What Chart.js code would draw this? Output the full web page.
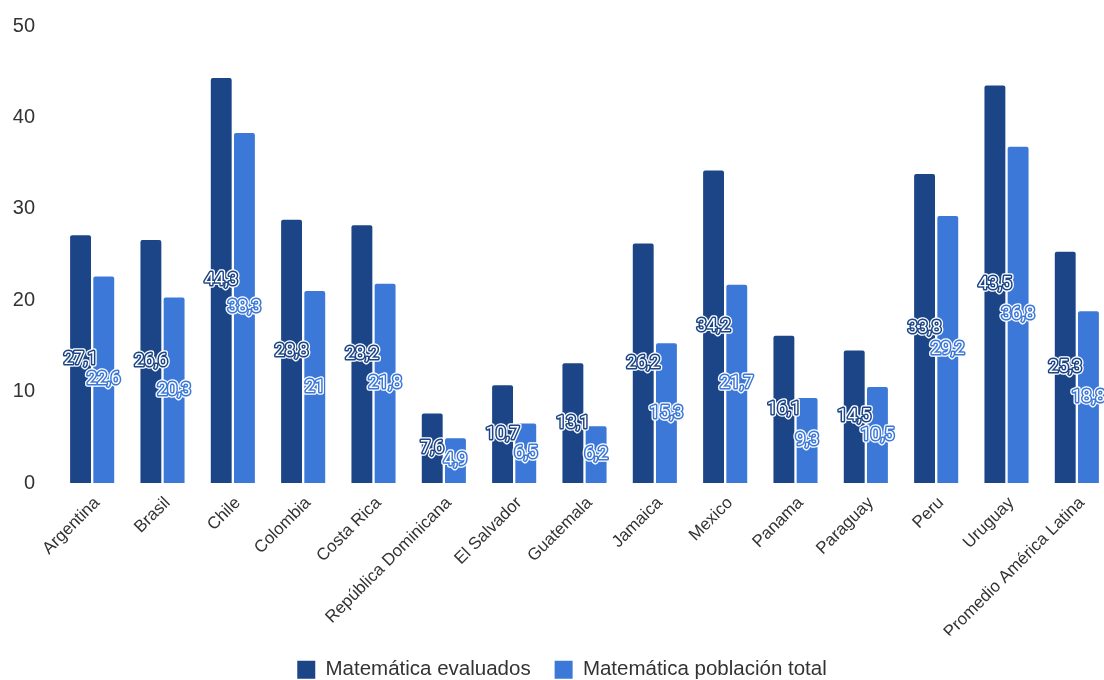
<!DOCTYPE html>
<html>
<head>
<meta charset="utf-8">
<script src="https://cdn.jsdelivr.net/npm/chart.js@4.4.1/dist/chart.umd.min.js"></script>
<style>
  html, body { margin: 0; padding: 0; background: #fff; overflow: hidden; }
  #wrap { position: absolute; left: 0; top: 0; width: 1112px; height: 690px; }
</style>
</head>
<body>
<div id="wrap"><canvas id="graph0"></canvas></div>
<script>
// DATA
const paises = ['Argentina', 'Brasil', 'Chile', 'Colombia', 'Costa Rica', 'República Dominicana',
    'El Salvador', 'Guatemala', 'Jamaica', 'Mexico', 'Panama', 'Paraguay', 'Peru', 'Uruguay',
    'Promedio América Latina']
const evaluados = [27.1, 26.6, 44.3, 28.8, 28.2, 7.6, 10.7, 13.1, 26.2, 34.2, 16.1, 14.5, 33.8, 43.5, 25.3]
const poblacion = [22.6, 20.3, 38.3, 21, 21.8, 4.9, 6.5, 6.2, 15.3, 21.7, 9.3, 10.5, 29.2, 36.8, 18.8]
const yTicks = [0, 10, 20, 30, 40, 50]

const darkBlue = '#1c4587'
const lightBlue = '#3c78d8'

// LABELS IN THE MIDDLE OF EACH BAR
const midLabels = {
    id: 'midLabels',
    afterDatasetsDraw(chart) {
        const ctx = chart.ctx
        ctx.save()
        ctx.font = '18px Roboto'
        ctx.textAlign = 'center'
        ctx.textBaseline = 'middle'
        ctx.lineJoin = 'round'
        chart.data.datasets.forEach((ds, i) => {
            chart.getDatasetMeta(i).data.forEach((bar, j) => {
                const txt = String(ds.data[j]).replace('.', ',')
                const x = bar.x
                const y = (bar.y + bar.base) / 2
                ctx.lineWidth = 5.5
                ctx.strokeStyle = '#ffffff'
                ctx.strokeText(txt, x, y)
                ctx.lineWidth = 3
                ctx.strokeStyle = ds.backgroundColor
                ctx.strokeText(txt, x, y)
                ctx.fillStyle = '#ffffff'
                ctx.fillText(txt, x, y)
            })
        })
        ctx.restore()
    }
}

// GRAPH
const ctx = document.getElementById('graph0').getContext('2d')
const graph0 = new Chart(ctx, {
    type: 'bar',
    data: {
        labels: paises,
        datasets: [
            {
                label: 'Matemática evaluados',
                data: evaluados,
                backgroundColor: darkBlue,
                borderRadius: { topLeft: 2, topRight: 2 },
                borderSkipped: 'bottom'
            },
            {
                label: 'Matemática población total',
                data: poblacion,
                backgroundColor: lightBlue,
                borderRadius: { topLeft: 2, topRight: 2 },
                borderSkipped: 'bottom'
            }
        ]
    },
    options: {
        responsive: true,
        maintainAspectRatio: false,
        animation: false,
        layout: { padding: { top: 26, right: 0, bottom: 0, left: 12 } },
        categoryPercentage: 0.66,
        barPercentage: 0.9,
        scales: {
            x: {
                grid: { display: false },
                border: { display: false },
                ticks: {
                    color: '#333',
                    font: { family: 'Liberation Sans, Arial', size: 17 },
                    maxRotation: 45,
                    minRotation: 45,
                    autoSkip: false,
                    padding: 2,
                    labelOffset: 5
                },
                afterFit(scale) { scale.height = 152.5 }
            },
            y: {
                min: 0,
                max: 50,
                grid: { display: false, drawTicks: false },
                border: { display: false },
                afterBuildTicks(scale) { scale.ticks = yTicks.map(v => ({ value: v })) },
                ticks: {
                    color: '#333',
                    font: { family: 'Liberation Sans, Arial', size: 20 },
                    padding: 22
                },
                afterFit(scale) {
                    scale.width = 45
                    scale.paddingTop = 0
                    scale.paddingBottom = 0
                }
            }
        },
        plugins: {
            legend: {
                position: 'bottom',
                labels: {
                    color: '#333',
                    font: { family: 'Liberation Sans, Arial', size: 20.5 },
                    boxWidth: 18,
                    boxHeight: 18,
                    padding: 24
                }
            },
            tooltip: { enabled: false }
        }
    },
    plugins: [midLabels]
})
</script>
</body>
</html>
